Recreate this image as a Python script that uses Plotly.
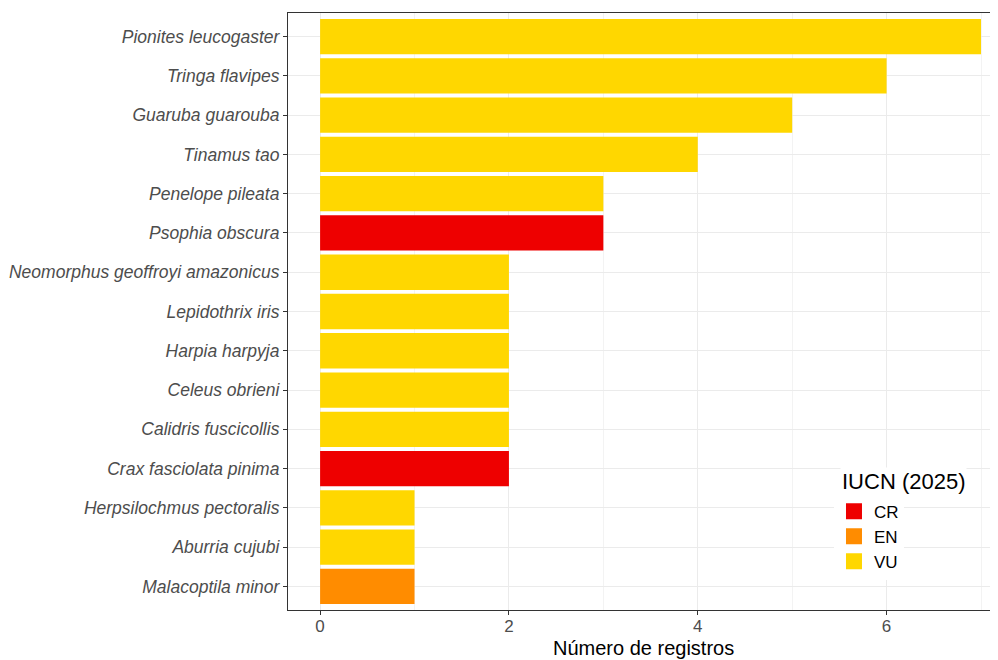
import plotly.graph_objects as go

species = ["Pionites leucogaster", "Tringa flavipes", "Guaruba guarouba", "Tinamus tao",
           "Penelope pileata", "Psophia obscura", "Neomorphus geoffroyi amazonicus",
           "Lepidothrix iris", "Harpia harpyja", "Celeus obrieni", "Calidris fuscicollis",
           "Crax fasciolata pinima", "Herpsilochmus pectoralis", "Aburria cujubi",
           "Malacoptila minor"]
registros = [7, 6, 5, 4, 3, 3, 2, 2, 2, 2, 2, 2, 1, 1, 1]
status = ["VU", "VU", "VU", "VU", "VU", "CR", "VU", "VU", "VU", "VU", "VU", "CR", "VU", "VU", "EN"]

categorias = ["CR", "EN", "VU"]
cores = {"CR": "#EE0000", "EN": "#FF8C00", "VU": "#FFD700"}

font = "Liberation Sans, Arial, sans-serif"

fig = go.Figure()
for cat in categorias:
    ys = [s for s, st in zip(species, status) if st == cat]
    xs = [r for r, st in zip(registros, status) if st == cat]
    fig.add_trace(go.Bar(x=xs, y=ys, orientation="h", marker_color=cores[cat],
                         marker_line_width=0, width=0.9, showlegend=False,
                         name=cat, hoverinfo="x+y"))
    # legend key
    fig.add_trace(go.Scatter(x=[None], y=[None], mode="markers", name=cat,
                             marker=dict(symbol="square", size=16, color=cores[cat])))

# the page body has an 8px margin, so the figure is a bit smaller and shifted
fig.update_layout(
    width=990, height=652,
    margin=dict(l=280, r=0, t=5, b=50),
    plot_bgcolor="white", paper_bgcolor="white",
    barmode="overlay",
    font=dict(family=font),
    legend=dict(font=dict(size=17, color="black"),
                x=0.769, y=0.195, xanchor="left", yanchor="top",
                bgcolor="white", tracegroupgap=0, itemwidth=30),
    annotations=[
        dict(text="Número de registros", xref="paper", yref="paper",
             x=0.5, y=0, yshift=-38, yanchor="middle", showarrow=False,
             font=dict(size=20, color="black")),
        dict(text="IUCN (2025)", xref="paper", yref="paper",
             x=0.778, y=0.216, xanchor="left", yanchor="middle", showarrow=False,
             bgcolor="white", font=dict(size=22, color="black")),
    ],
)
fig.update_xaxes(
    range=[-0.34, 7.18], tickvals=[0, 2, 4, 6],
    showgrid=True, gridcolor="#EBEBEB", gridwidth=1,
    minor=dict(tickvals=[1, 3, 5, 7], showgrid=True, gridcolor="#F3F3F3", gridwidth=1),
    showline=True, linecolor="#333333", linewidth=1.2, mirror=True,
    ticks="outside", ticklen=4, tickcolor="#333333",
    tickfont=dict(size=17, color="#4D4D4D"),
    ticklabelstandoff=-4,
    zeroline=False,
)
fig.update_yaxes(
    categoryorder="array", categoryarray=species[::-1],
    range=[-0.6, 14.6],
    showgrid=True, gridcolor="#EBEBEB", gridwidth=1,
    showline=True, linecolor="#333333", linewidth=1.2,
    ticks="outside", ticklen=4, tickcolor="#333333",
    tickfont=dict(size=17.5, color="#4D4D4D", style="italic"),
    ticklabelstandoff=0,
)

fig.write_html("out.html")
